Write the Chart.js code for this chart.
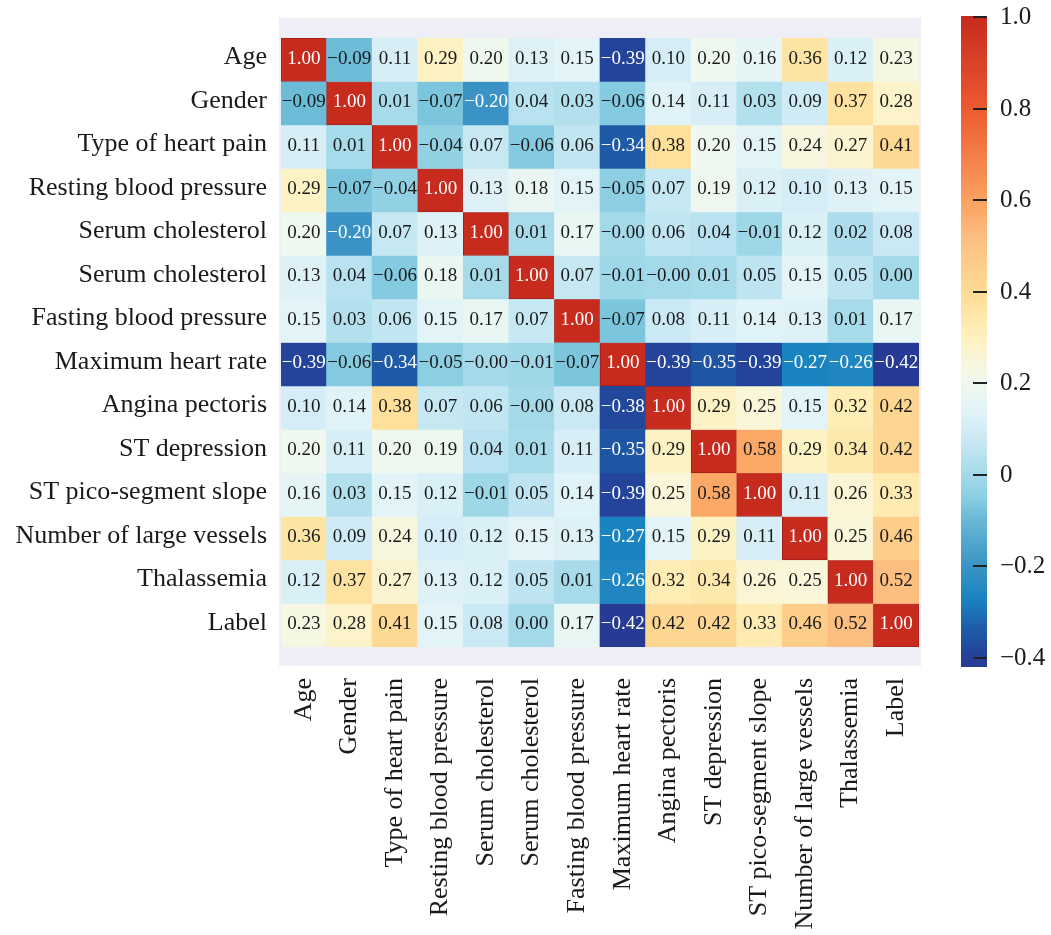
<!DOCTYPE html>
<html>
<head>
<meta charset="utf-8">
<script src="https://cdn.jsdelivr.net/npm/chart.js@4.4.1/dist/chart.umd.min.js"></script>
<style>
  html, body { margin: 0; padding: 0; background: #fff; }
  #wrap { width: 1051px; height: 935px; }
</style>
</head>
<body>
<div id="wrap"><canvas id="heat" width="1051" height="935"></canvas></div>
<script>
// ===== Correlation heatmap (heart disease features) =====

const features = [
  'Age', 'Gender', 'Type of heart pain', 'Resting blood pressure',
  'Serum cholesterol', 'Serum cholesterol', 'Fasting blood pressure',
  'Maximum heart rate', 'Angina pectoris', 'ST depression',
  'ST pico-segment slope', 'Number of large vessels', 'Thalassemia', 'Label'
];

// one row per feature, same order as the columns
const rowAge      = [1.00, -0.09, 0.11, 0.29, 0.20, 0.13, 0.15, -0.39, 0.10, 0.20, 0.16, 0.36, 0.12, 0.23];
const rowGender   = [-0.09, 1.00, 0.01, -0.07, -0.20, 0.04, 0.03, -0.06, 0.14, 0.11, 0.03, 0.09, 0.37, 0.28];
const rowPain     = [0.11, 0.01, 1.00, -0.04, 0.07, -0.06, 0.06, -0.34, 0.38, 0.20, 0.15, 0.24, 0.27, 0.41];
const rowRestBP   = [0.29, -0.07, -0.04, 1.00, 0.13, 0.18, 0.15, -0.05, 0.07, 0.19, 0.12, 0.10, 0.13, 0.15];
const rowChol1    = [0.20, -0.20, 0.07, 0.13, 1.00, 0.01, 0.17, -0.00, 0.06, 0.04, -0.01, 0.12, 0.02, 0.08];
const rowChol2    = [0.13, 0.04, -0.06, 0.18, 0.01, 1.00, 0.07, -0.01, -0.00, 0.01, 0.05, 0.15, 0.05, 0.00];
const rowFastBP   = [0.15, 0.03, 0.06, 0.15, 0.17, 0.07, 1.00, -0.07, 0.08, 0.11, 0.14, 0.13, 0.01, 0.17];
const rowMaxHR    = [-0.39, -0.06, -0.34, -0.05, -0.00, -0.01, -0.07, 1.00, -0.39, -0.35, -0.39, -0.27, -0.26, -0.42];
const rowAngina   = [0.10, 0.14, 0.38, 0.07, 0.06, -0.00, 0.08, -0.38, 1.00, 0.29, 0.25, 0.15, 0.32, 0.42];
const rowSTDep    = [0.20, 0.11, 0.20, 0.19, 0.04, 0.01, 0.11, -0.35, 0.29, 1.00, 0.58, 0.29, 0.34, 0.42];
const rowSTSlope  = [0.16, 0.03, 0.15, 0.12, -0.01, 0.05, 0.14, -0.39, 0.25, 0.58, 1.00, 0.11, 0.26, 0.33];
const rowVessels  = [0.36, 0.09, 0.24, 0.10, 0.12, 0.15, 0.13, -0.27, 0.15, 0.29, 0.11, 1.00, 0.25, 0.46];
const rowThal     = [0.12, 0.37, 0.27, 0.13, 0.12, 0.05, 0.01, -0.26, 0.32, 0.34, 0.26, 0.25, 1.00, 0.52];
const rowLabel    = [0.23, 0.28, 0.41, 0.15, 0.08, 0.00, 0.17, -0.42, 0.42, 0.42, 0.33, 0.46, 0.52, 1.00];

const corr = [rowAge, rowGender, rowPain, rowRestBP, rowChol1, rowChol2, rowFastBP,
              rowMaxHR, rowAngina, rowSTDep, rowSTSlope, rowVessels, rowThal, rowLabel];

const barTicks = [1.0, 0.8, 0.6, 0.4, 0.2, 0, -0.2, -0.4];
const barMin = -0.42, barMax = 1.0;

// ===== Colour map =====
const cmapStops  = [-0.42, -0.39, -0.34, -0.27, -0.2, -0.09, -0.05, 0, 0.05, 0.1, 0.15, 0.2, 0.26, 0.3, 0.38, 0.45, 0.52, 0.58, 0.8, 1.0];
const cmapColors = ['#263b93', '#23449a', '#1e5aa6', '#1a84c0', '#3a93c4', '#6cbcd8', '#8ccfe2', '#a3d9e9',
                    '#bde4f0', '#d4edf6', '#e3f4f8', '#eff8ee', '#fbf5d6', '#fef1be', '#fee09a', '#fdd08a',
                    '#fdbe80', '#fba866', '#ec5a30', '#c62b1e'];

const FONT = '"Liberation Serif", "Times New Roman", serif';
const INK = '#1a1a1a';

function hexToRgb(h) {
  return [parseInt(h.slice(1, 3), 16), parseInt(h.slice(3, 5), 16), parseInt(h.slice(5, 7), 16)];
}

function colorFor(v) {
  if (v <= cmapStops[0]) return cmapColors[0];
  for (let k = 1; k < cmapStops.length; k++) {
    if (v <= cmapStops[k]) {
      const t = (v - cmapStops[k - 1]) / (cmapStops[k] - cmapStops[k - 1]);
      const a = hexToRgb(cmapColors[k - 1]), b = hexToRgb(cmapColors[k]);
      const c = a.map((x, i) => Math.round(x + (b[i] - x) * t));
      return `rgb(${c[0]},${c[1]},${c[2]})`;
    }
  }
  return cmapColors[cmapColors.length - 1];
}

function fmt(v, digits) {
  const neg = v < 0 || Object.is(v, -0);
  return (neg ? '\u2212' : '') + Math.abs(v).toFixed(digits);
}

// ===== Plugins =====
const backdrop = {
  id: 'backdrop',
  beforeDraw(chart) {
    const ctx = chart.ctx;
    ctx.save();
    ctx.fillStyle = '#ffffff';
    ctx.fillRect(0, 0, chart.width, chart.height);
    ctx.fillStyle = '#eeeff6';
    ctx.fillRect(279, 18, 642, 648);
    ctx.restore();
  }
};

const cellText = {
  id: 'cellText',
  afterDatasetsDraw(chart) {
    const ctx = chart.ctx;
    ctx.save();
    ctx.font = '19px ' + FONT;
    ctx.textAlign = 'center';
    ctx.textBaseline = 'middle';
    chart.data.datasets.forEach((ds, r) => {
      chart.getDatasetMeta(r).data.forEach((el, c) => {
        const v = corr[r][c];
        const p = el.getCenterPoint();
        ctx.fillStyle = (v >= 0.8 || v <= -0.2) ? '#ffffff' : INK;
        ctx.fillText(fmt(v, 2), p.x, p.y - 1);
      });
    });
    ctx.restore();
  }
};

const colorBar = {
  id: 'colorBar',
  afterDraw(chart) {
    const ctx = chart.ctx;
    const x0 = 961, x1 = 987, top = 17, bottom = 667;
    const yFor = v => top + (barMax - v) / (barMax - barMin) * (bottom - top);
    ctx.save();
    const g = ctx.createLinearGradient(0, top, 0, bottom);
    cmapStops.forEach((s, k) => {
      g.addColorStop(Math.min(1, Math.max(0, (barMax - s) / (barMax - barMin))), cmapColors[k]);
    });
    ctx.fillStyle = g;
    ctx.fillRect(x0, top - 1, x1 - x0, bottom - top + 1);
    ctx.strokeStyle = '#222';
    ctx.lineWidth = 2;
    ctx.fillStyle = INK;
    ctx.font = '25px ' + FONT;
    ctx.textAlign = 'left';
    ctx.textBaseline = 'middle';
    barTicks.forEach(t => {
      const y = Math.round(yFor(t));
      ctx.beginPath();
      ctx.moveTo(973, y);
      ctx.lineTo(x1, y);
      ctx.stroke();
      ctx.fillText(t === 0 ? '0' : fmt(t, 1), 1000, y);
    });
    ctx.restore();
  }
};

// ===== Chart =====
const datasets = corr.map((row, r) => ({
  label: features[r],
  data: row.map(() => [r, r + 1]),
  backgroundColor: row.map(colorFor),
  borderColor: row.map((v, c) => c === r ? '#a31f1c' : 'rgba(0,0,0,0)'),
  borderWidth: row.map((v, c) => c === r ? 1 : 0),
  borderSkipped: false,
  barPercentage: 1,
  categoryPercentage: 1,
  grouped: false
}));

new Chart(document.getElementById('heat'), {
  type: 'bar',
  data: { labels: features, datasets },
  options: {
    responsive: false,
    animation: false,
    layout: { padding: { top: 38, right: 132, left: 0, bottom: 0 } },
    plugins: { legend: { display: false }, tooltip: { enabled: false } },
    scales: {
      x: {
        type: 'category',
        grid: { display: false },
        border: { display: false },
        ticks: {
          autoSkip: false, minRotation: 90, maxRotation: 90, padding: 23,
          color: INK, font: { family: FONT, size: 26 }
        },
        afterFit: s => { s.height = 288; }
      },
      y: {
        type: 'linear', min: 0, max: 14, reverse: true,
        grid: { display: false },
        border: { display: false },
        afterBuildTicks: s => { s.ticks = features.map((_, i) => ({ value: i + 0.45 })); },
        ticks: {
          autoSkip: false, padding: 6,
          color: INK, font: { family: FONT, size: 26 },
          callback: (v, i) => features[i]
        },
        afterFit: s => { s.width = 281; }
      }
    }
  },
  plugins: [backdrop, cellText, colorBar]
});
</script>
</body>
</html>
